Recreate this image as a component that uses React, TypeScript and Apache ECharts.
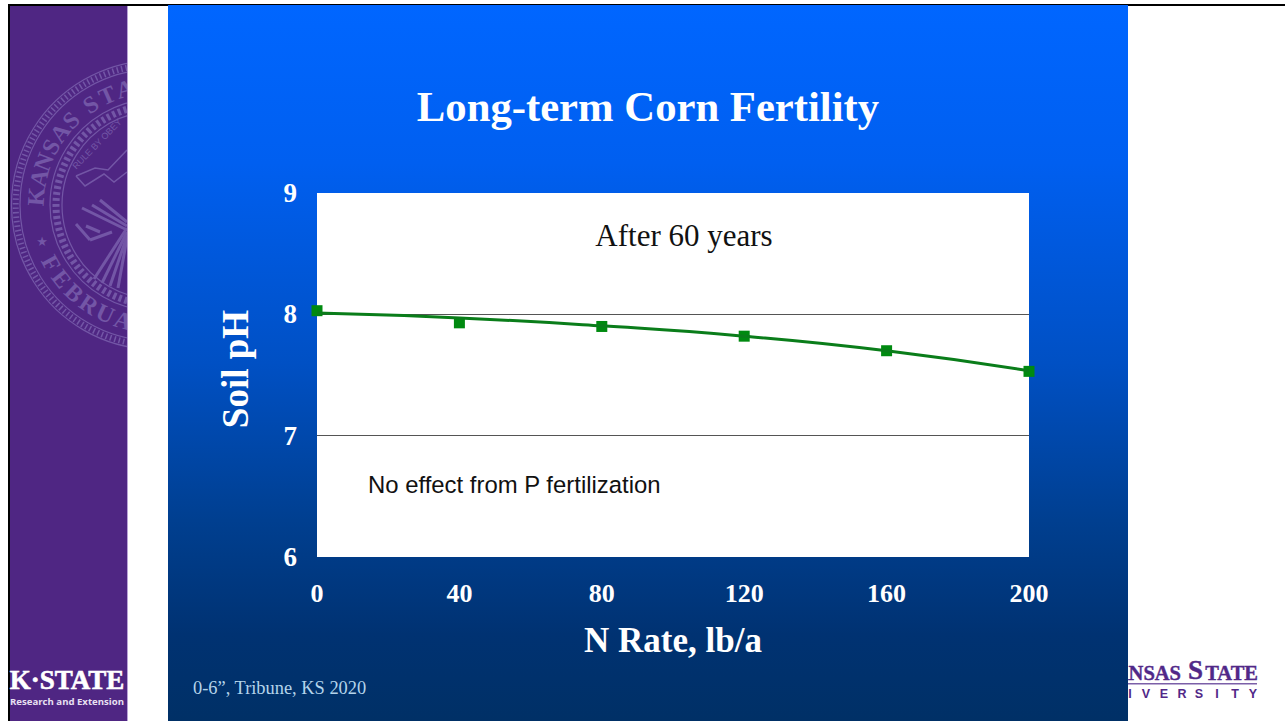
import React, { useEffect, useRef } from "react";
import * as echarts from "echarts";

const nRates = [0, 40, 80, 120, 160, 200];
const soilPh = [8.03, 7.93, 7.9, 7.82, 7.7, 7.53];
const trendPh = [8.01, 7.97, 7.905, 7.82, 7.7, 7.535];
const yTicks = [6, 7, 8, 9];
const title = "Long-term Corn Fertility";
const yName = "Soil pH";
const xName = "N Rate, lb/a";
const note1 = "After 60 years";
const note2 = "No effect from P fertilization";
const source = "0-6”, Tribune, KS 2020";

const SEAL = "#7356a6";
const sealCx = 156;
const sealCy = 205;
const topLetters: [string, number][] = [
  ["K", 176], ["A", 167], ["N", 159], ["S", 151], ["A", 143], ["S", 135],
  ["S", 123], ["T", 114], ["A", 105],
];
const bottomLetters: [string, number][] = [
  ["F", 209], ["E", 218], ["B", 227], ["R", 236], ["U", 245], ["A", 254],
];
const universityLetters: [string, number][] = [
  ["U", 1098], ["N", 1114], ["I", 1130], ["V", 1146], ["E", 1164], ["R", 1182],
  ["S", 1199], ["I", 1217], ["T", 1235], ["Y", 1253],
];
const sheafLines: number[][][] = [
  [[127, 228], [94, 279]], [[127, 232], [102, 283]], [[127, 236], [110, 286]],
  [[127, 238], [118, 288]], [[127, 222], [100, 200]], [[127, 226], [92, 205]],
  [[127, 230], [82, 208]], [[100, 232], [86, 226]], [[90, 240], [76, 224]],
  [[90, 240], [112, 232]],
];

function ringEl(r: number, w: number, dash?: number[]) {
  return {
    type: "circle", z: -90, silent: true,
    shape: { cx: sealCx, cy: sealCy, r },
    style: { fill: "none", stroke: SEAL, lineWidth: w, lineDash: dash },
  };
}
function letterEl(ch: string, deg: number, rotDeg: number) {
  const a = (deg * Math.PI) / 180;
  return {
    type: "text", z: -90, silent: true,
    x: sealCx + 120 * Math.cos(a),
    y: sealCy - 120 * Math.sin(a),
    rotation: (rotDeg * Math.PI) / 180,
    style: {
      text: ch, fill: SEAL, font: "bold 24px 'Liberation Serif'",
      textAlign: "center", textVerticalAlign: "middle",
    },
  };
}

const graphics: any[] = [
  { type: "rect", z: -100, silent: true, shape: { x: 0, y: 0, width: 1285, height: 721 }, style: { fill: "#ffffff" } },
  { type: "rect", z: -99, silent: true, shape: { x: 8, y: 4, width: 1277, height: 2 }, style: { fill: "#000000" } },
  { type: "rect", z: -99, silent: true, shape: { x: 8, y: 5, width: 2, height: 716 }, style: { fill: "#000000" } },
  { type: "rect", z: -98, silent: true, shape: { x: 10, y: 6, width: 117, height: 715 }, style: { fill: "#4f2683" } },
  ringEl(144.5, 1.2), ringEl(136, 1.2), ringEl(140.3, 6, [1.5, 3]),
  ringEl(106, 1.2), ringEl(100, 7, [3, 3]), ringEl(94, 1.2),
  ...topLetters.map(([c, d]) => letterEl(c, d, d - 90)),
  ...bottomLetters.map(([c, d]) => letterEl(c, d, d - 270)),
  { type: "text", z: -90, silent: true, x: 42, y: 241, style: { text: "★", fill: SEAL, font: "13px 'DejaVu Sans'", textAlign: "center", textVerticalAlign: "middle" } },
  { type: "text", z: -90, silent: true, x: 97, y: 144, rotation: 0.8, style: { text: "RULE BY OBEY", fill: SEAL, font: "9px 'Liberation Sans'", textAlign: "center", textVerticalAlign: "middle" } },
  { type: "polyline", z: -90, silent: true, shape: { points: [[76, 176], [85, 186], [104, 174], [114, 182], [127, 172]] }, style: { fill: "none", stroke: SEAL, lineWidth: 1.5 } },
  { type: "polyline", z: -90, silent: true, shape: { points: [[76, 176], [95, 168], [108, 170], [127, 150]] }, style: { fill: "none", stroke: SEAL, lineWidth: 1.5 } },
  ...sheafLines.map((points) => ({ type: "polyline", z: -90, silent: true, shape: { points }, style: { fill: "none", stroke: SEAL, lineWidth: 3 } })),
  { type: "rect", z: -80, silent: true, shape: { x: 127, y: 6, width: 1, height: 715 }, style: { fill: "#b9a3d6" } },
  { type: "rect", z: -80, silent: true, shape: { x: 128, y: 6, width: 40, height: 715 }, style: { fill: "#ffffff" } },
  { type: "text", z: -70, silent: true, x: 67, y: 680, style: { text: "K·STATE", fill: "#ffffff", stroke: "#ffffff", lineWidth: 0.6, font: "bold 27px 'Liberation Serif'", textAlign: "center", textVerticalAlign: "middle" } },
  { type: "text", z: -70, silent: true, x: 67, y: 701, style: { text: "Research and Extension", fill: "#e8e0f2", font: "bold 9.6px 'Open Sans'", textAlign: "center", textVerticalAlign: "middle" } },
  { type: "text", z: -70, silent: true, x: 1181, y: 673, style: { text: "KANSAS", fill: "#512888", stroke: "#512888", lineWidth: 0.4, font: "bold 20.5px 'Liberation Serif'", textAlign: "right", textVerticalAlign: "middle" } },
  { type: "text", z: -70, silent: true, x: 1188, y: 670, style: { text: "S", fill: "#512888", stroke: "#512888", lineWidth: 0.4, font: "bold 27px 'Liberation Serif'", textAlign: "left", textVerticalAlign: "middle" } },
  { type: "text", z: -70, silent: true, x: 1258, y: 673, style: { text: "TATE", fill: "#512888", stroke: "#512888", lineWidth: 0.4, font: "bold 20.5px 'Liberation Serif'", textAlign: "right", textVerticalAlign: "middle" } },
  { type: "rect", z: -70, silent: true, shape: { x: 1090, y: 683, width: 167, height: 1.5 }, style: { fill: "#7b5fa8" } },
  ...universityLetters.map(([c, x]) => ({ type: "text", z: -70, silent: true, x, y: 694, style: { text: c, fill: "#512888", font: "bold 12.5px 'Liberation Sans'", textAlign: "center", textVerticalAlign: "middle" } })),
  {
    type: "rect", z: -60, silent: true,
    shape: { x: 168, y: 5, width: 960, height: 716 },
    style: {
      fill: new echarts.graphic.LinearGradient(0, 0, 0, 1, [
        { offset: 0, color: "#0066ff" },
        { offset: 0.22, color: "#005ff0" },
        { offset: 0.5, color: "#0050c4" },
        { offset: 0.72, color: "#003f90" },
        { offset: 0.88, color: "#003272" },
        { offset: 1, color: "#003066" },
      ]),
    },
  },
  { type: "text", z: 5, silent: true, x: 648, y: 106, style: { text: title, fill: "#ffffff", font: "bold 42.7px 'Liberation Serif'", textAlign: "center", textVerticalAlign: "middle" } },
  { type: "text", z: 5, silent: true, x: 684, y: 235, style: { text: note1, fill: "#111111", font: "31px 'Liberation Serif'", textAlign: "center", textVerticalAlign: "middle" } },
  { type: "text", z: 5, silent: true, x: 368, y: 484, style: { text: note2, fill: "#111111", font: "23.9px 'Liberation Sans'", textAlign: "left", textVerticalAlign: "middle" } },
  { type: "text", z: 5, silent: true, x: 193, y: 688, style: { text: source, fill: "#b4d4ea", font: "18.4px 'Liberation Serif'", textAlign: "left", textVerticalAlign: "middle" } },
];

export default function App() {
  const ref = useRef<HTMLDivElement>(null);
  useEffect(() => {
    document.body.style.margin = "0";
    document.body.style.overflow = "hidden";
    const chart = echarts.init(ref.current!, undefined, { renderer: "svg" });
    chart.setOption({
      animation: false,
      graphic: { elements: graphics },
      grid: {
        left: 317, top: 193, width: 712, height: 364,
        show: true, backgroundColor: "#ffffff", borderWidth: 0,
      },
      xAxis: {
        type: "value", min: 0, max: 200, interval: 40,
        name: xName, nameLocation: "middle", nameGap: 66,
        nameTextStyle: { color: "#ffffff", fontFamily: "Liberation Serif", fontWeight: "bold", fontSize: 35 },
        axisLine: { show: false }, axisTick: { show: false }, splitLine: { show: false },
        axisLabel: { color: "#ffffff", fontFamily: "Liberation Serif", fontWeight: "bold", fontSize: 26, margin: 23, customValues: nRates },
      },
      yAxis: {
        type: "value", min: yTicks[0], max: yTicks[yTicks.length - 1], interval: 1,
        name: yName, nameLocation: "middle", nameGap: 63, nameRotate: 90,
        nameTextStyle: { color: "#ffffff", fontFamily: "Liberation Serif", fontWeight: "bold", fontSize: 37, padding: [0, 0, 0, 12] },
        axisLine: { show: false }, axisTick: { show: false },
        splitLine: { show: true, showMinLine: false, showMaxLine: false, lineStyle: { color: "#555555", width: 1 } },
        axisLabel: { color: "#ffffff", fontFamily: "Liberation Serif", fontWeight: "bold", fontSize: 27, margin: 20 },
      },
      series: [
        {
          type: "line", name: "Trend", smooth: true, showSymbol: false, clip: false,
          lineStyle: { color: "#0a7d1a", width: 3 },
          data: nRates.map((x, i) => [x, trendPh[i]]),
        },
        {
          type: "scatter", name: "Soil pH", symbol: "rect", symbolSize: 11, clip: false,
          itemStyle: { color: "#008a10", opacity: 1 },
          data: nRates.map((x, i) => [x, soilPh[i]]),
        },
      ],
    });
    return () => chart.dispose();
  }, []);
  return <div ref={ref} style={{ position: "absolute", left: 0, top: 0, width: 1285, height: 721 }} />;
}
